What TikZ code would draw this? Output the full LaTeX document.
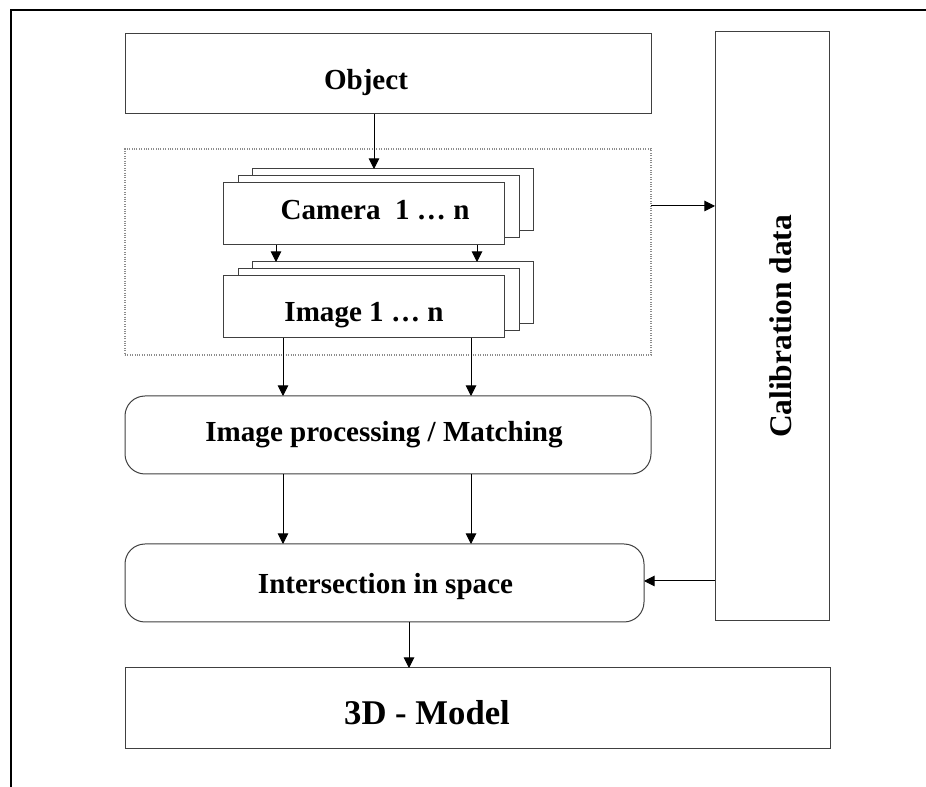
\documentclass[tikz,border=0pt]{standalone}
\usepackage{fontspec}
\setmainfont{Liberation Serif}
\usetikzlibrary{arrows.meta}

\begin{document}
\begin{tikzpicture}[x=0.75pt,y=-0.75pt]
\tikzset{
  boxnode/.style={draw=black!75,line width=0.75pt,fill=white,inner sep=0pt,outer sep=0pt},
  sized/.style 2 args={minimum width={#1*0.75pt},minimum height={#2*0.75pt}},
  roundbox/.style={boxnode,rounded corners=15pt},
  groupbox/.style={draw=black!45,densely dotted,line width=0.8pt,inner sep=0pt,outer sep=0pt},
  labeltext/.style={font=\bfseries\fontsize{21.8}{26}\selectfont,anchor=base,inner sep=0pt},
  flow/.style={draw=black,line width=0.75pt,-{Triangle[length=8pt,width=8pt]}},
  frameline/.style={draw=black,line width=1.3pt}
}
\useasboundingbox (0,0) rectangle (926,787);
\draw[frameline] (926,10) -- (11,10) -- (11,787);
\node[boxnode,sized={526}{80}] (n_obj) at (388,74) {};
\node[groupbox,sized={526}{206}] (n_group) at (388,252) {};
\node[boxnode,sized={114}{589}] (n_calib) at (772,326.5) {};
\node[boxnode,sized={281}{62}] (n_cam_3) at (392.5,200) {};
\node[boxnode,sized={281}{62}] (n_cam_2) at (378.5,207) {};
\node[boxnode,sized={281}{62}] (n_cam_1) at (363.5,214) {};
\node[boxnode,sized={281}{62}] (n_img_3) at (392.5,293) {};
\node[boxnode,sized={281}{62}] (n_img_2) at (378.5,300) {};
\node[boxnode,sized={281}{62}] (n_img_1) at (363.5,307) {};
\node[roundbox,sized={526}{78}] (n_proc) at (388,435) {};
\node[roundbox,sized={519}{78}] (n_inter) at (384.5,583) {};
\node[boxnode,sized={705}{81}] (n_model) at (477.5,708.5) {};
\node[labeltext] (t_obj) at (366,90) {Object};
\node[labeltext] (t_cam) at (375,220) {Camera\ \ 1 … n};
\node[labeltext] (t_img) at (364,322) {Image 1 … n};
\node[labeltext] (t_proc) at (384,442) {Image processing / Matching};
\node[labeltext] (t_inter) at (385.5,594) {Intersection in space};
\node[labeltext,font=\bfseries\fontsize{26}{31}\selectfont] (t_model) at (427,725) {3D - Model};
\node[labeltext,rotate=90,font=\bfseries\fontsize{23.6}{28}\selectfont] (t_calib) at (791,326.5) {Calibration data};
\coordinate (c_obj) at (374,0);
\coordinate (c_cam_l) at (276,0);
\coordinate (c_cam_r) at (477,0);
\coordinate (c_left) at (283,0);
\coordinate (c_right) at (471,0);
\coordinate (c_model) at (409,0);
\coordinate (r_up) at (0,206);
\coordinate (r_low) at (0,581);
\draw[flow] (c_obj |- n_obj.south) -- (c_obj |- n_cam_3.north);
\draw[flow] (c_cam_l |- n_cam_1.south) -- (c_cam_l |- n_img_3.north);
\draw[flow] (c_cam_r |- n_cam_1.south) -- (c_cam_r |- n_img_3.north);
\draw[flow] (c_left |- n_img_1.south) -- (c_left |- n_proc.north);
\draw[flow] (c_right |- n_img_1.south) -- (c_right |- n_proc.north);
\draw[flow] (c_left |- n_proc.south) -- (c_left |- n_inter.north);
\draw[flow] (c_right |- n_proc.south) -- (c_right |- n_inter.north);
\draw[flow] (c_model |- n_inter.south) -- (c_model |- n_model.north);
\draw[flow] (n_group.east |- r_up) -- (n_calib.west |- r_up);
\draw[flow] (n_calib.west |- r_low) -- (n_inter.east |- r_low);
\end{tikzpicture}
\end{document}
